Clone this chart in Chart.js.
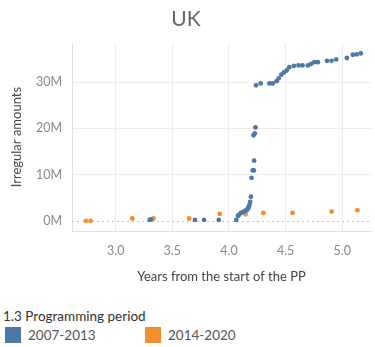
<!DOCTYPE html>
<html>
<head>
<meta charset="utf-8">
<script src="https://cdn.jsdelivr.net/npm/chart.js@4.4.1/dist/chart.umd.min.js"></script>
<style>
  body { margin: 0; background: #fff; font-family: Lato, "Open Sans", sans-serif; }
  #wrap { position: relative; width: 375px; height: 347px; overflow: hidden; }
  #chart-box { position: absolute; left: 0; top: 0; width: 375px; height: 300px; }
  .legend-title { position: absolute; left: 3px; top: 308px; font-size: 13.5px; color: #333; }
  .legend-item { position: absolute; top: 327px; font-size: 13.5px; color: #555; }
  .legend-item .sw { display: inline-block; width: 16px; height: 16px; vertical-align: -3px; margin-right: 7px; }
</style>
</head>
<body>
<div id="wrap">
  <div id="chart-box"><canvas id="ukChart" width="375" height="300"></canvas></div>
  <div class="legend-title">1.3 Programming period</div>
  <div class="legend-item" style="left:5px"><span class="sw" style="background:#4e79a7"></span>2007-2013</div>
  <div class="legend-item" style="left:145px"><span class="sw" style="background:#f28e2b"></span>2014-2020</div>
</div>
<script>
// Irregular amounts (in millions) by years since the start of the programming period
const years0713 = [3.30, 3.31, 3.70, 3.78, 3.91, 4.064, 4.08, 4.09, 4.105, 4.123, 4.13, 4.146, 4.155,
  4.164, 4.17, 4.175, 4.181, 4.187, 4.193, 4.199, 4.21, 4.22, 4.222, 4.217, 4.228, 4.234, 4.239,
  4.28, 4.357, 4.386, 4.421, 4.439, 4.462, 4.485, 4.509, 4.532, 4.573, 4.614, 4.649, 4.696, 4.725,
  4.754, 4.784, 4.866, 4.906, 4.947, 5.041, 5.094, 5.129, 5.164];
const amounts0713 = [0.2, 0.3, 0.2, 0.2, 0.2, 0.2, 1.1, 1.3, 1.7, 1.9, 2.0, 2.2, 2.3,
  2.5, 2.8, 3.0, 3.5, 4.1, 5.2, 9.3, 10.9, 10.9, 13.0, 18.5, 18.9, 20.2, 29.3,
  29.7, 29.7, 29.7, 30.2, 30.8, 31.6, 32.1, 32.5, 33.2, 33.5, 33.6, 33.6, 33.6, 33.9,
  34.3, 34.3, 34.6, 34.6, 34.9, 35.2, 35.9, 36.0, 36.2];

const years1420 = [2.737, 2.778, 3.146, 3.333, 3.649, 3.918, 4.146, 4.304, 4.561, 4.906, 5.134];
const amounts1420 = [0.0, 0.0, 0.5, 0.5, 0.5, 1.5, 1.4, 1.7, 1.7, 2.0, 2.3];

const xTicks = [3.0, 3.5, 4.0, 4.5, 5.0];
const yTicks = [0, 10, 20, 30];

function toPoints(xs, ys) {
    return xs.map((x, i) => ({ x: x, y: ys[i] * 1e6 }));
}

// dotted reference line at zero
const zeroLine = {
    id: 'zeroLine',
    beforeDatasetsDraw(chart) {
        const { ctx, chartArea, scales } = chart;
        const y = Math.round(scales.y.getPixelForValue(0)) + 0.5;
        ctx.save();
        ctx.strokeStyle = '#c4c4c4';
        ctx.lineWidth = 1;
        ctx.setLineDash([2, 3]);
        ctx.beginPath();
        ctx.moveTo(chartArea.left, y);
        ctx.lineTo(chartArea.right, y);
        ctx.stroke();
        ctx.restore();
    }
};

const ctx = document.getElementById('ukChart').getContext('2d');

new Chart(ctx, {
    type: 'scatter',
    data: {
        datasets: [{
            label: '2007-2013',
            data: toPoints(years0713, amounts0713),
            backgroundColor: '#4e79a7',
            borderWidth: 0,
            pointRadius: 2.4
        }, {
            label: '2014-2020',
            data: toPoints(years1420, amounts1420),
            backgroundColor: '#f28e2b',
            borderWidth: 0,
            pointRadius: 2.4
        }]
    },
    options: {
        responsive: false,
        animation: false,
        layout: {
            padding: { top: 0, right: 3, left: 0, bottom: 0 }
        },
        plugins: {
            legend: { display: false },
            tooltip: { enabled: false },
            title: {
                display: true,
                text: 'UK',
                color: '#666',
                font: { family: 'Lato', size: 21, weight: 'normal' },
                padding: { top: 7, bottom: 11 }
            }
        },
        scales: {
            x: {
                type: 'linear',
                min: 2.614,
                max: 5.254,
                afterBuildTicks: function(scale) {
                    scale.ticks = xTicks.map(v => ({ value: v }));
                },
                afterFit: function(scale) {
                    scale.height = 69;
                },
                grid: { color: '#ececec', drawTicks: false },
                border: { display: true, color: '#e0e0e0' },
                ticks: {
                    padding: 12,
                    color: '#888',
                    font: { family: 'Lato', size: 12.5 },
                    callback: function(value) {
                        return value.toFixed(1);
                    }
                },
                title: {
                    display: true,
                    text: 'Years from the start of the PP',
                    color: '#444',
                    font: { family: 'Lato', size: 13 },
                    padding: { top: 0, bottom: 15 }
                }
            },
            y: {
                type: 'linear',
                min: -2.2e6,
                max: 38.4e6,
                afterBuildTicks: function(scale) {
                    scale.ticks = yTicks.map(v => ({ value: v * 1e6 }));
                },
                afterFit: function(scale) {
                    scale.width = 72;
                },
                grid: {
                    drawTicks: false,
                    color: function(c) {
                        return c.tick && c.tick.value === 0 ? 'rgba(0,0,0,0)' : '#ececec';
                    }
                },
                border: { display: true, color: '#e0e0e0' },
                ticks: {
                    padding: 10,
                    color: '#888',
                    font: { family: 'Lato', size: 12.5 },
                    callback: function(value) {
                        return (value / 1e6) + 'M';
                    }
                },
                title: {
                    display: true,
                    text: 'Irregular amounts',
                    color: '#444',
                    font: { family: 'Lato', size: 13 },
                    padding: { top: 9, bottom: 0 }
                }
            }
        }
    },
    plugins: [zeroLine]
});
</script>
</body>
</html>
